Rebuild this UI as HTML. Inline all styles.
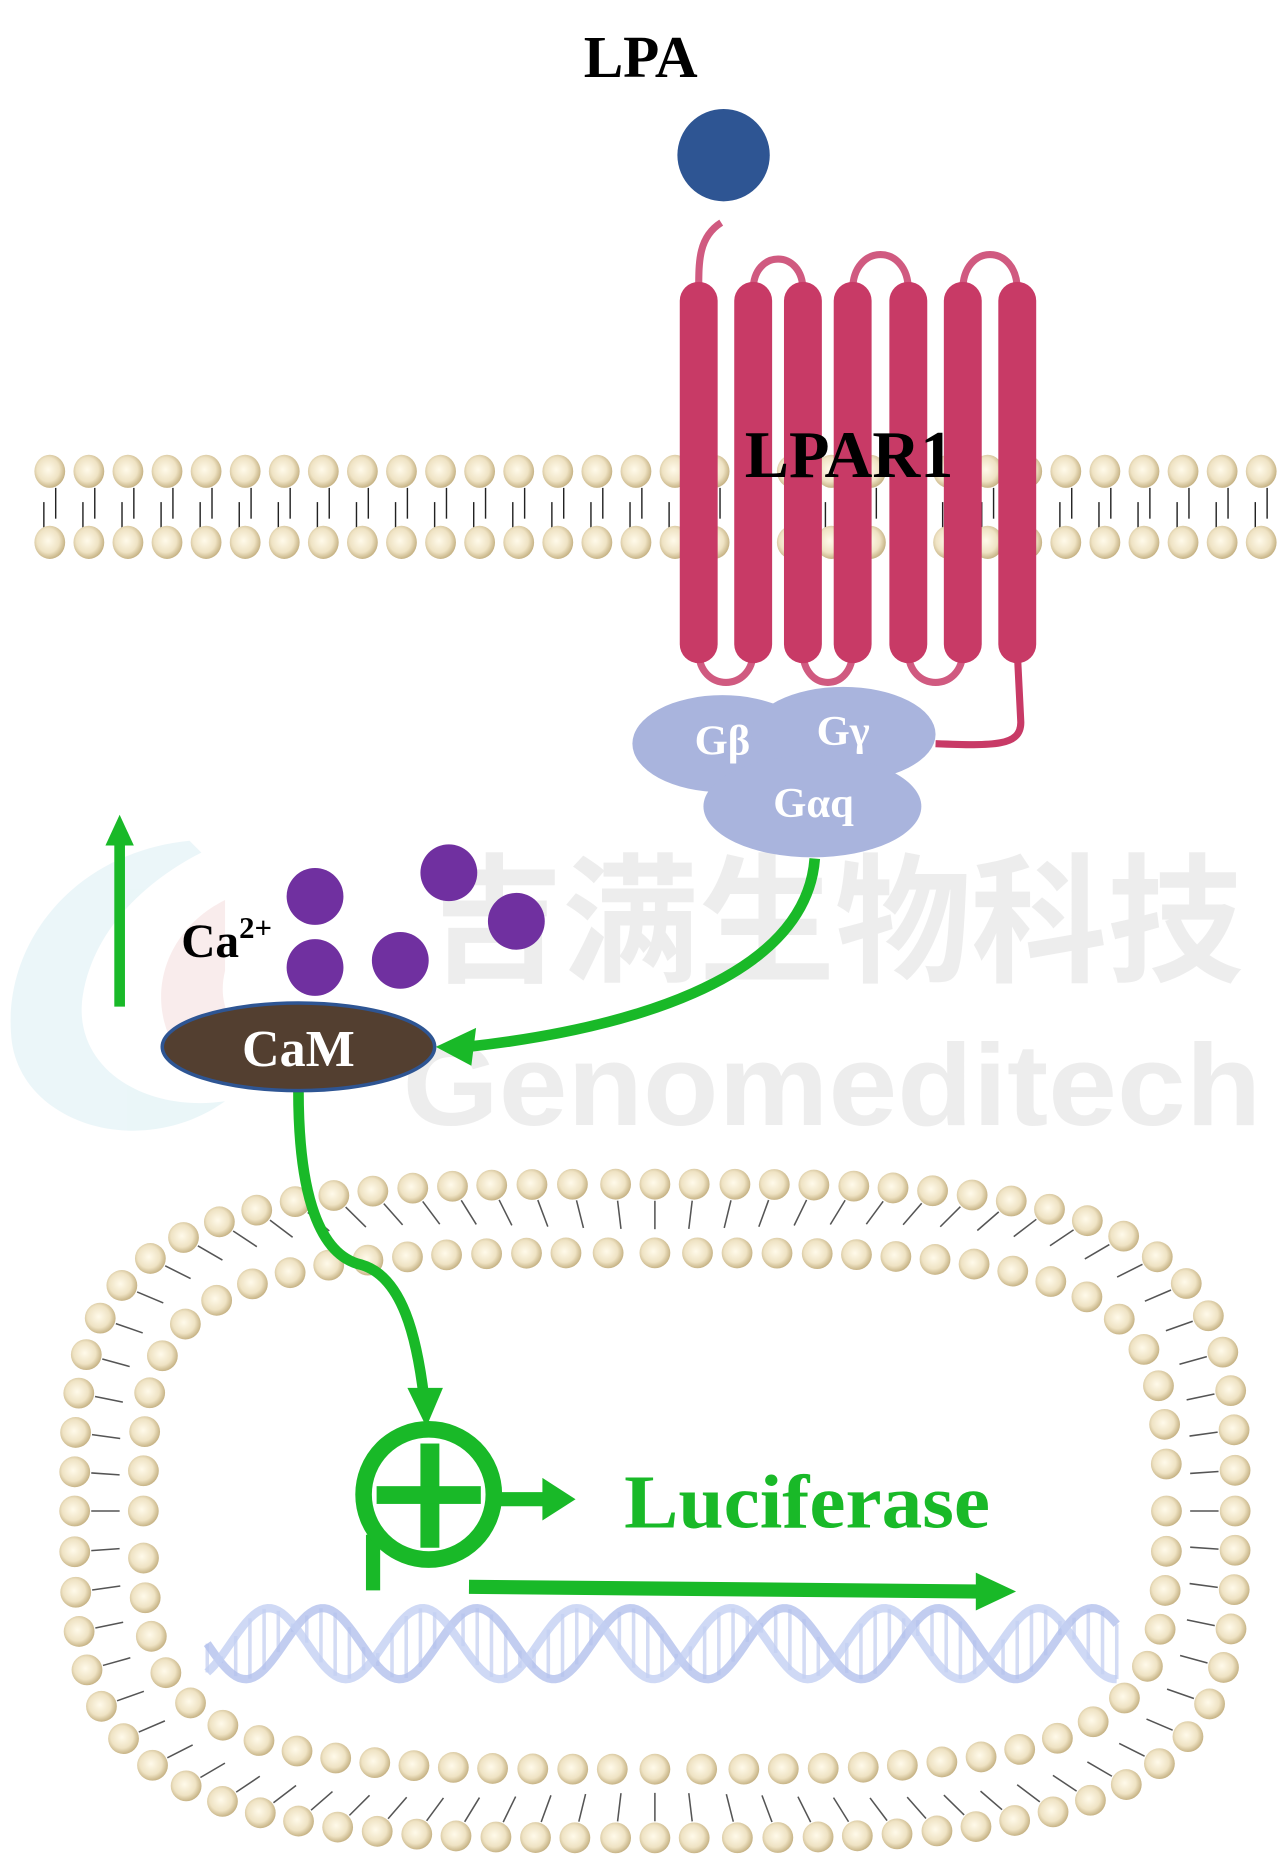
<!DOCTYPE html>
<html><head><meta charset="utf-8"><style>html,body{margin:0;padding:0;background:#fff}svg{display:block}</style></head>
<body>
<svg id="s" width="1279" height="1858" viewBox="0 0 1080 1569" xmlns="http://www.w3.org/2000/svg" font-family="'Liberation Serif',serif">
<defs>
<radialGradient id="hd" cx="45%" cy="45%" r="60%"><stop offset="0" stop-color="#fffaea"/><stop offset="0.6" stop-color="#efe3c4"/><stop offset="1" stop-color="#bda877"/></radialGradient>
</defs>
<!-- watermark -->
<g opacity="0.5">
<path d="M160,710 C60,720 0,800 10,880 C20,950 120,980 190,930 C120,940 60,900 70,840 C80,780 130,740 170,720 Z" fill="#d7eef3"/>
<path d="M190,760 C130,790 120,860 160,900 C200,930 240,920 250,880 C210,890 180,860 190,820 Z" fill="#f5dada"/>
<text x="360" y="820" font-family="'Noto Sans CJK SC',sans-serif" font-weight="bold" font-size="118" fill="#dcdcdc" textLength="690" lengthAdjust="spacingAndGlyphs">吉满生物科技</text>
<text x="340" y="950" font-family="'Liberation Sans',sans-serif" font-weight="bold" font-size="98" fill="#dcdcdc" textLength="725" lengthAdjust="spacingAndGlyphs">Genomeditech</text>
</g>
<g id="mem"></g>
<g id="cell"></g>
<!-- receptor loops -->
<g fill="none" stroke="#d05a80" stroke-width="6">
<path d="M609,188 C590,200 590,220 590,245"/>
<path d="M636,245 C636,210 678,210 678,245"/>
<path d="M720,245 C720,205 767,205 767,245"/>
<path d="M813,245 C813,205 859,205 859,245"/>
<path d="M590,550 C590,585 636,585 636,550"/>
<path d="M678,550 C678,585 720,585 720,550"/>
<path d="M767,550 C767,585 813,585 813,550"/>
</g>
<path d="M859,550 L862,610 C862,630 840,630 790,628" fill="none" stroke="#c83a66" stroke-width="6"/>
<g fill="#c83a66">
<rect x="574" y="238" width="32" height="322" rx="16"/>
<rect x="620" y="238" width="32" height="322" rx="16"/>
<rect x="662" y="238" width="32" height="322" rx="16"/>
<rect x="704" y="238" width="32" height="322" rx="16"/>
<rect x="751" y="238" width="32" height="322" rx="16"/>
<rect x="797" y="238" width="32" height="322" rx="16"/>
<rect x="843" y="238" width="32" height="322" rx="16"/>
</g>
<circle cx="611" cy="131" r="39" fill="#2e5593"/>
<text x="541" y="65" text-anchor="middle" font-size="50" font-weight="bold">LPA</text>
<text x="717" y="403" text-anchor="middle" font-size="56" font-weight="bold">LPAR1</text>
<g fill="#a9b4dd">
<ellipse cx="610" cy="628" rx="76" ry="41"/>
<ellipse cx="712" cy="620" rx="78" ry="40"/>
<ellipse cx="686" cy="681" rx="92" ry="43"/>
</g>
<g fill="#fff" font-weight="bold" font-size="36">
<text x="610" y="637" text-anchor="middle">Gβ</text>
<text x="712" y="629" text-anchor="middle">Gγ</text>
<text x="687" y="690" text-anchor="middle">Gαq</text>
</g>
<!-- green arrows -->
<g stroke="#19b928" fill="none" stroke-width="9">
<path d="M688,725 C680,830 520,870 395,884"/>
<path d="M101,850 L101,710"/>
<path d="M252,921 C252,1010 270,1060 305,1068 C340,1078 352,1130 358,1180"/>
<path d="M420,1266 L460,1266" stroke-width="12"/>
<path d="M396,1340 L830,1344" stroke-width="12"/>
<path d="M315,1296 L315,1343" stroke-width="12"/>
<circle cx="362" cy="1262" r="55" stroke-width="14"/>
</g>
<g fill="#19b928">
<polygon points="368,884 402,868 398,900"/>
<polygon points="101,688 89,714 113,714"/>
<polygon points="360,1205 344,1172 374,1172"/>
<polygon points="486,1266 458,1248 458,1284"/>
<polygon points="858,1344 824,1328 824,1360"/>
<rect x="355" y="1219" width="16" height="88"/>
<rect x="318" y="1255" width="88" height="15"/>
</g>
<text x="527" y="1290" font-size="64" font-weight="bold" fill="#19b928" textLength="309" lengthAdjust="spacingAndGlyphs">Luciferase</text>
<!-- Ca -->
<g fill="#7030a0">
<circle cx="266" cy="757" r="24"/><circle cx="379" cy="737" r="24"/><circle cx="436" cy="778" r="24"/><circle cx="266" cy="817" r="24"/><circle cx="338" cy="811" r="24"/>
</g>
<text x="153" y="808" font-size="40" font-weight="bold">Ca<tspan font-size="26" dy="-16">2+</tspan></text>
<ellipse cx="252" cy="884" rx="115" ry="37" fill="#533f30" stroke="#2e5593" stroke-width="3"/>
<text x="252" y="900" text-anchor="middle" font-size="44" font-weight="bold" fill="#fff">CaM</text>
<g id="dna"></g>
</svg>
<script>
var NS="http://www.w3.org/2000/svg";
function el(p,t,a){var e=document.createElementNS(NS,t);for(var k in a)e.setAttribute(k,a[k]);p.appendChild(e);return e;}
var mem=document.getElementById('mem');
for(var i=0;i<32;i++){var x=42+33*i;
 el(mem,'line',{x1:x+5,y1:412,x2:x+5,y2:438,stroke:'#222','stroke-width':1.2});
 el(mem,'line',{x1:x-5,y1:424,x2:x-5,y2:446,stroke:'#222','stroke-width':1.2});
 el(mem,'ellipse',{cx:x,cy:398,rx:13,ry:14,fill:'url(#hd)'});
 el(mem,'ellipse',{cx:x,cy:458,rx:13,ry:14,fill:'url(#hd)'});}
var cell=document.getElementById('cell');
function ring(a,b,n,cx,cy,sp,dir){
 var pts=[],N=4000;
 for(var k=0;k<N;k++){var t=2*Math.PI*k/N,c=Math.cos(t),s=Math.sin(t);
  pts.push([cx+a*Math.sign(c)*Math.pow(Math.abs(c),2/n),cy+b*Math.sign(s)*Math.pow(Math.abs(s),2/n)]);}
 var out=[],acc=0;out.push(pts[0]);
 for(var k=1;k<N;k++){var d=Math.hypot(pts[k][0]-pts[k-1][0],pts[k][1]-pts[k-1][1]);acc+=d;if(acc>=sp){out.push(pts[k]);acc=0;}}
 out.forEach(function(p){var dx=cx-p[0],dy=cy-p[1],L=Math.hypot(dx,dy);dx/=L;dy/=L;
  el(cell,'line',{x1:p[0]+dx*14*dir,y1:p[1]+dy*14*dir,x2:p[0]+dx*38*dir,y2:p[1]+dy*38*dir,stroke:'#555','stroke-width':1.3});});
 out.forEach(function(p){el(cell,'circle',{cx:p[0],cy:p[1],r:13,fill:'url(#hd)'});});
}
ring(490,276,3.6,553,1276,33,1);
ring(432,218,3.9,553,1276,33,-0.3);
var dna=document.getElementById('dna');
var d1='',d2='';
for(var x=175;x<=945;x+=3){var y1=1388+30*Math.sin((x-175)/130*2*Math.PI),y2=1388+30*Math.sin((x-175)/130*2*Math.PI+Math.PI*0.7);
 d1+=(x==175?'M':'L')+x+','+y1;d2+=(x==175?'M':'L')+x+','+y2;
 if((x-175)%12==0)el(dna,'line',{x1:x,y1:y1,x2:x,y2:y2,stroke:'#d3dbf4','stroke-width':3});}
el(dna,'path',{d:d1,fill:'none',stroke:'#b3c1ec','stroke-width':7,opacity:0.8});
el(dna,'path',{d:d2,fill:'none',stroke:'#c3cff2','stroke-width':7,opacity:0.8});
</script>
</body></html>
